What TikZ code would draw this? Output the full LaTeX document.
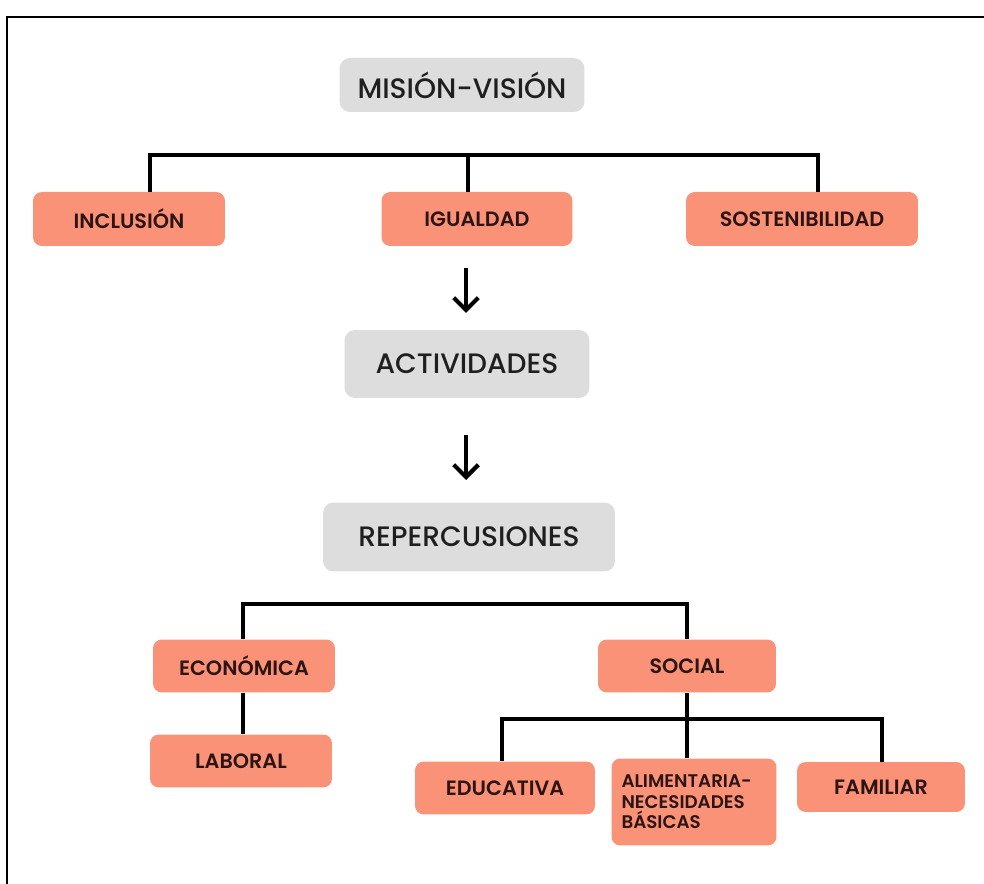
\documentclass[tikz,border=0pt]{standalone}
\usepackage{fontspec}
\setmainfont{Poppins}
\newfontfamily\semifont{Poppins SemiBold}
\newfontfamily\mediumfont{Poppins Medium}
\usetikzlibrary{arrows.meta}
\definecolor{salmon}{RGB}{250,146,120}
\definecolor{gris}{RGB}{221,221,221}
\definecolor{tinta}{RGB}{45,20,18}
\tikzset{
  grisbox/.style={fill=gris, rounded corners=6pt, inner sep=0pt, text=black!88,
    font=\mediumfont\fontsize{16}{19}\selectfont},
  naranja/.style={fill=salmon, rounded corners=5pt, inner sep=0pt, text=tinta,
    font=\semifont\fontsize{11.8}{13}\selectfont},
  link/.style={line width=2.3pt},
  flecha/.style={line width=2.6pt, -{Straight Barb[length=7pt,width=14pt,line width=2.4pt]}},
}
\begin{document}
\begin{tikzpicture}[x=0.02cm,y=-0.02cm]
\useasboundingbox (0,0) rectangle (984,884);
% marco
\draw[line width=1.5pt] (7,884) -- (7,17) -- (984,17);

% nivel 1
\node[grisbox, minimum width=4.9cm, minimum height=1.08cm] (mision) at (462,85) {MISIÓN-VISIÓN};
\node[naranja, minimum width=3.84cm, minimum height=1.08cm] (inclusion) at (129,219) {INCLUSIÓN};
\node[naranja, minimum width=3.82cm, minimum height=1.08cm] (igualdad) at (477,219) {IGUALDAD};
\node[naranja, minimum width=4.64cm, minimum height=1.08cm] (sostenibilidad) at (802,219) {SOSTENIBILIDAD};

\coordinate (barL) at (150,155);
\coordinate (barM) at (468,155);
\coordinate (barR) at (818,155);
\draw[link] (inclusion.north -| barL) -- (barL) -- (barR) -- (sostenibilidad.north -| barR);
\draw[link] (barM) -- (igualdad.north -| barM);

% flechas
\coordinate (f1a) at (466,268);
\coordinate (f1b) at (466,313);
\coordinate (f2a) at (466,435);
\coordinate (f2b) at (466,480);
\draw[flecha] (f1a) -- (f1b);
\draw[flecha] (f2a) -- (f2b);

\node[grisbox, minimum width=4.9cm, minimum height=1.36cm] (actividades) at (467,364) {ACTIVIDADES};
\node[grisbox, minimum width=5.84cm, minimum height=1.38cm] (repercusiones) at (469,537) {REPERCUSIONES};

% repercusiones
\node[naranja, minimum width=3.64cm, minimum height=1.06cm] (economica) at (244,666) {ECONÓMICA};
\node[naranja, minimum width=3.64cm, minimum height=1.06cm] (laboral) at (241,761) {LABORAL};
\node[naranja, minimum width=3.56cm, minimum height=1.06cm] (social) at (687,666) {SOCIAL};

\coordinate (rep1) at (243,604);
\coordinate (rep2) at (687,604);
\draw[link] (economica.north -| rep1) -- (rep1) -- (rep2) -- (social.north);
\draw[link] (economica.south -| rep1) -- (laboral.north -| rep1);

\node[naranja, minimum width=3.6cm, minimum height=1.06cm] (educativa) at (505,788) {EDUCATIVA};
\node[naranja, minimum width=3.3cm, minimum height=1.74cm, text width=2.9cm, align=left,
  font=\semifont\fontsize{10.4}{11.6}\selectfont] (alimentaria) at (694,802) {ALIMENTARIA-\\NECESIDADES\\BÁSICAS};
\node[naranja, minimum width=3.36cm, minimum height=1.0cm] (familiar) at (881,787) {FAMILIAR};

\coordinate (socL) at (502,719);
\coordinate (socM) at (687,719);
\coordinate (socR) at (882,719);
\draw[link] (social.south) -- (socM);
\draw[link] (educativa.north -| socL) -- (socL) -- (socR) -- (familiar.north -| socR);
\draw[link] (socM) -- (alimentaria.north -| socM);
\end{tikzpicture}
\end{document}
